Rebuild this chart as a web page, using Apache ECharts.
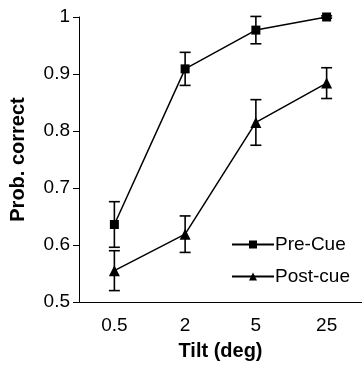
<!DOCTYPE html>
<html>
<head>
<meta charset="utf-8">
<script src="https://cdn.jsdelivr.net/npm/echarts@6/dist/echarts.min.js"></script>
<style>
  html, body { margin: 0; padding: 0; background: #fff; }
  #main { width: 362px; height: 366px; }
</style>
</head>
<body>
<div id="main"></div>
<script>
// data
var tilts = ["0.5", "2", "5", "25"];
var preCue = [0.636, 0.909, 0.977, 1.0];
var preCueErr = [0.04, 0.029, 0.024, 0.002];
var postCue = [0.555, 0.619, 0.815, 0.884];
var postCueErr = [0.035, 0.032, 0.04, 0.027];
var yTicks = [0.5, 0.6, 0.7, 0.8, 0.9, 1];

var myChart = echarts.init(document.getElementById("main"));

var font = "Liberation Sans, Arial, sans-serif";

function errorData(vals, errs) {
  return vals.map(function (v, i) {
    return [i, v - errs[i], v + errs[i]];
  });
}

// draws a vertical whisker with caps
function renderError(params, api) {
  var x = api.value(0);
  var lo = api.coord([x, api.value(1)]);
  var hi = api.coord([x, api.value(2)]);
  var half = 5.5;
  var style = { stroke: "#000", lineWidth: 1.6 };
  return {
    type: "group",
    children: [
      { type: "line", shape: { x1: lo[0], y1: lo[1], x2: hi[0], y2: hi[1] }, style: style },
      { type: "line", shape: { x1: lo[0] - half, y1: lo[1], x2: lo[0] + half, y2: lo[1] }, style: style },
      { type: "line", shape: { x1: hi[0] - half, y1: hi[1], x2: hi[0] + half, y2: hi[1] }, style: style }
    ]
  };
}

var option = {
  animation: false,
  backgroundColor: "#fff",
  textStyle: { fontFamily: font },
  grid: { left: 75, right: 0, top: 17, bottom: 63 },
  legend: {
    orient: "vertical",
    left: 226,
    top: 230,
    itemWidth: 42,
    itemHeight: 10,
    itemGap: 13,
    data: ["Pre-Cue", "Post-cue"],
    textStyle: { fontFamily: font, fontSize: 19, color: "#000", padding: [0, 0, 0, -4] }
  },
  xAxis: {
    type: "category",
    data: tilts,
    boundaryGap: true,
    name: "Tilt (deg)",
    nameLocation: "middle",
    nameGap: 39,
    nameTextStyle: { fontFamily: font, fontSize: 20, fontWeight: "bold", color: "#000" },
    axisLine: { lineStyle: { color: "#000", width: 1 } },
    axisTick: { length: 6, lineStyle: { color: "#000" } },
    axisLabel: { fontFamily: font, fontSize: 19, color: "#000", margin: 14 },
    splitLine: { show: false }
  },
  yAxis: {
    type: "value",
    min: yTicks[0],
    max: yTicks[yTicks.length - 1],
    interval: 0.1,
    name: "Prob. correct",
    nameLocation: "middle",
    nameGap: 51,
    nameTextStyle: { fontFamily: font, fontSize: 20, fontWeight: "bold", color: "#000" },
    axisLine: { show: true, lineStyle: { color: "#000", width: 1 } },
    axisTick: { show: true, length: 6, lineStyle: { color: "#000" } },
    axisLabel: { fontFamily: font, fontSize: 19, color: "#000", margin: 9 },
    splitLine: { show: false }
  },
  series: [
    {
      name: "Pre-Cue",
      type: "line",
      data: preCue,
      symbol: "rect",
      symbolSize: 9,
      itemStyle: { color: "#000" },
      lineStyle: { color: "#000", width: 1.5 },
      z: 3
    },
    {
      name: "Post-cue",
      type: "line",
      data: postCue,
      symbol: "triangle",
      symbolSize: 11,
      itemStyle: { color: "#000" },
      lineStyle: { color: "#000", width: 1.5 },
      z: 3
    },
    {
      type: "custom",
      renderItem: renderError,
      data: errorData(preCue, preCueErr),
      encode: { x: 0, y: [1, 2] },
      z: 2
    },
    {
      type: "custom",
      renderItem: renderError,
      data: errorData(postCue, postCueErr),
      encode: { x: 0, y: [1, 2] },
      z: 2
    }
  ]
};

myChart.setOption(option);
</script>
</body>
</html>
